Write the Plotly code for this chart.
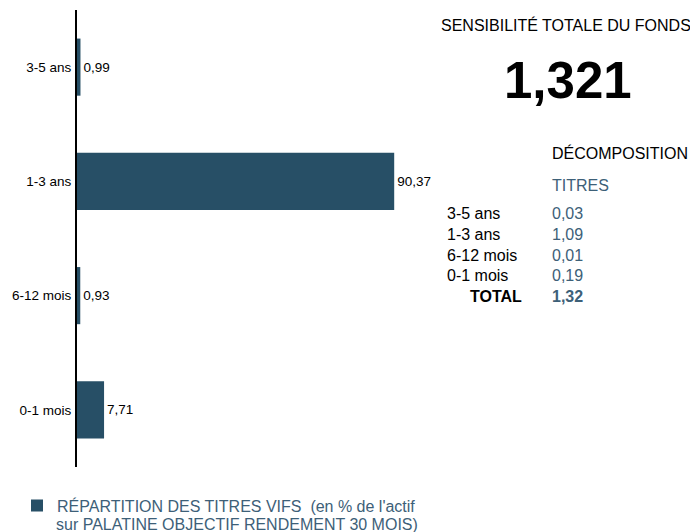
import plotly.graph_objects as go

categories = ["3-5 ans", "1-3 ans", "6-12 mois", "0-1 mois"]
repartition = [0.99, 90.37, 0.93, 7.71]
sensibilite_titres = [0.03, 1.09, 0.01, 0.19]
sensibilite_total = 1.32
sensibilite_fonds = 1.321

legend_line1 = "RÉPARTITION DES TITRES VIFS  (en % de l'actif"
legend_line2 = "sur PALATINE OBJECTIF RENDEMENT 30 MOIS)"

BAR = "#274f66"
BLUE_TXT = "#3d6078"
FONT = "Liberation Sans, Arial, sans-serif"

L, T, PW, PH = 77, 10, 351, 457


def fr(v, d=2):
    return f"{v:.{d}f}".replace(".", ",")


def px(x):
    return (x - L) / PW


def py(y):
    return 1 - (y - T) / PH


fig = go.Figure()
fig.add_trace(go.Bar(
    y=categories, x=repartition, orientation="h",
    marker=dict(color=BAR, line=dict(width=0)),
    text=[fr(v) for v in repartition], textposition="outside",
    textfont=dict(size=13.5, color="black", family=FONT),
    cliponaxis=False,
    name=legend_line1, showlegend=True,
))

fig.update_layout(
    width=690, height=532,
    margin=dict(l=L, r=690 - L - PW, t=T, b=532 - T - PH, autoexpand=False),
    paper_bgcolor="white", plot_bgcolor="white",
    font=dict(family=FONT, size=13.5, color="black"),
    bargap=0.5,
    showlegend=True,
    legend=dict(x=px(17), y=py(488.5), xanchor="left", yanchor="top",
                font=dict(size=16, color=BLUE_TXT, family=FONT),
                itemsizing="constant", bgcolor="rgba(0,0,0,0)"),
    xaxis=dict(range=[0, 100], visible=False, fixedrange=True),
    yaxis=dict(categoryorder="array", categoryarray=categories, autorange="reversed",
               showline=True, linecolor="black", linewidth=2, showgrid=False,
               ticks="", ticklabelstandoff=1, tickfont=dict(size=13.5, color="black")),
)

ann = []
ann.append(dict(xref="paper", yref="paper", x=px(54), y=py(524),
                text=legend_line2, showarrow=False, xanchor="left", yanchor="middle",
                font=dict(size=16, color=BLUE_TXT)))
ann.append(dict(xref="paper", yref="paper", x=px(439), y=py(25),
                text="SENSIBILITÉ TOTALE DU FONDS", showarrow=False, xanchor="left", yanchor="middle",
                font=dict(size=16, color="black")))
ann.append(dict(xref="paper", yref="paper", x=px(568), y=py(80),
                text="<b>" + fr(sensibilite_fonds, 3) + "</b>", showarrow=False, xanchor="center", yanchor="middle",
                font=dict(size=51, color="black")))
ann.append(dict(xref="paper", yref="paper", x=px(550), y=py(153),
                text="DÉCOMPOSITION", showarrow=False, xanchor="left", yanchor="middle",
                font=dict(size=16, color="black")))
ann.append(dict(xref="paper", yref="paper", x=px(550), y=py(186),
                text="TITRES", showarrow=False, xanchor="left", yanchor="middle",
                font=dict(size=16, color=BLUE_TXT)))
row_y = [214, 234.5, 255, 275.5]
for cat, v, yy in zip(categories, sensibilite_titres, row_y):
    ann.append(dict(xref="paper", yref="paper", x=px(445), y=py(yy),
                    text=cat, showarrow=False, xanchor="left", yanchor="middle",
                    font=dict(size=16, color="black")))
    ann.append(dict(xref="paper", yref="paper", x=px(550), y=py(yy),
                    text=fr(v), showarrow=False, xanchor="left", yanchor="middle",
                    font=dict(size=16, color=BLUE_TXT)))
ann.append(dict(xref="paper", yref="paper", x=px(524), y=py(296),
                text="<b>TOTAL</b>", showarrow=False, xanchor="right", yanchor="middle",
                font=dict(size=16, color="black")))
ann.append(dict(xref="paper", yref="paper", x=px(550), y=py(296),
                text="<b>" + fr(sensibilite_total) + "</b>", showarrow=False, xanchor="left", yanchor="middle",
                font=dict(size=16, color=BLUE_TXT)))
fig.update_layout(annotations=ann)

fig.write_html("out.html", config={"displayModeBar": False},
               post_script="document.body.style.margin='0';document.body.style.overflow='hidden';")
